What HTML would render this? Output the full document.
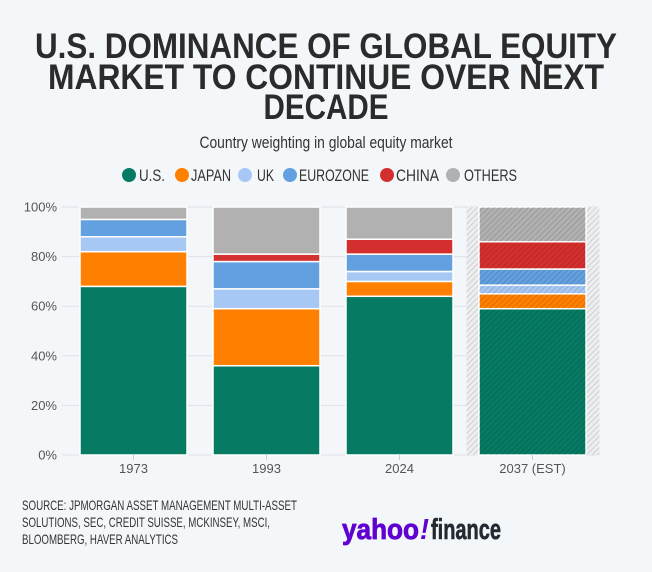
<!DOCTYPE html>
<html><head><meta charset="utf-8"><style>
html,body{margin:0;padding:0;background:#f4f7fa;}
svg{display:block;font-family:"Liberation Sans Narrow","Liberation Sans",sans-serif;}
</style></head><body>
<svg id="chart" width="652" height="572" viewBox="0 0 652 572" xmlns="http://www.w3.org/2000/svg">
<defs>
<pattern id="hatch" patternUnits="userSpaceOnUse" width="4" height="4" patternTransform="rotate(45)">
<line x1="0" y1="0" x2="0" y2="4" stroke="rgba(0,0,0,0.22)" stroke-width="1.2"/>
</pattern>
<pattern id="hatchbg" patternUnits="userSpaceOnUse" width="4" height="4" patternTransform="rotate(45)">
<rect width="4" height="4" fill="#eceef0"/>
<line x1="0" y1="0" x2="0" y2="4" stroke="#bdbdbd" stroke-width="1.2"/>
</pattern>
</defs>
<rect width="652" height="572" fill="#f4f7fa"/>
<g font-weight="bold" fill="#2b2b2b" font-size="35" text-anchor="middle">
<text x="326" y="58" textLength="582" lengthAdjust="spacingAndGlyphs">U.S. DOMINANCE OF GLOBAL EQUITY</text>
<text x="326" y="89" textLength="556" lengthAdjust="spacingAndGlyphs">MARKET TO CONTINUE OVER NEXT</text>
<text x="326" y="119" textLength="125" lengthAdjust="spacingAndGlyphs">DECADE</text>
</g>
<text x="326" y="148" text-anchor="middle" font-size="17" fill="#333" textLength="253" lengthAdjust="spacingAndGlyphs">Country weighting in global equity market</text>
<g id="legend"></g>
<g id="grid"></g>
<g id="bars"></g>
<g id="ticks"></g>
<g font-size="14" fill="#333">
<text x="22" y="510" textLength="275" lengthAdjust="spacingAndGlyphs">SOURCE: JPMORGAN ASSET MANAGEMENT MULTI-ASSET</text>
<text x="22" y="527" textLength="248" lengthAdjust="spacingAndGlyphs">SOLUTIONS, SEC, CREDIT SUISSE, MCKINSEY, MSCI,</text>
<text x="22" y="544" textLength="156" lengthAdjust="spacingAndGlyphs">BLOOMBERG, HAVER ANALYTICS</text>
</g>
<g font-family="Liberation Sans, sans-serif" font-weight="bold" font-size="29">
<text x="342" y="539" fill="#6001d2" stroke="#6001d2" stroke-width="0.8" textLength="77" lengthAdjust="spacingAndGlyphs">yahoo</text>
<text x="420" y="539" fill="#6001d2" font-style="italic" textLength="9" lengthAdjust="spacingAndGlyphs">!</text>
<text x="431" y="539" fill="#232a31" stroke="#232a31" stroke-width="0.6" textLength="70" lengthAdjust="spacingAndGlyphs">finance</text>
</g>
</svg>
<script>
const categories = ["1973","1993","2024","2037 (EST)"];
const seriesNames = ["U.S.","JAPAN","UK","EUROZONE","CHINA","OTHERS"];
const usVals = [68,36,64,59];
const japanVals = [14,23,6,6];
const ukVals = [6,8,4,3.5];
const eurozoneVals = [7,11,7,6.5];
const chinaVals = [0,3,6,11];
const othersVals = [5,19,13,14];
const yTicks = [0,20,40,60,80,100];

const NS="http://www.w3.org/2000/svg";
const colors=["#067a63","#ff8000","#a7c8f5","#62a0e0","#d42f2f","#b1b1b1"];
const series=[usVals,japanVals,ukVals,eurozoneVals,chinaVals,othersVals];
const plotL=62,plotR=598,y0=455,y100=207;
function y(v){return y0-(v/100)*(y0-y100);}
const bandStart=67,bandW=133;
function xCenter(i){return bandStart+bandW*(i+0.5);}
const barW=107;
function mk(tag,attrs,parent){const e=document.createElementNS(NS,tag);for(const k in attrs)e.setAttribute(k,attrs[k]);parent.appendChild(e);return e;}

const grid=document.getElementById('grid');
const ticks=document.getElementById('ticks');
yTicks.forEach(t=>{
  const l=mk('line',{x1:plotL,x2:plotR,y1:y(t),y2:y(t),stroke:'#dde1e5','stroke-width':1},grid);
  
  
  const tx=mk('text',{x:57,y:y(t)+4.5,'text-anchor':'end','font-size':13,fill:'#555'},ticks);
  tx.textContent=t+'%';
  
  
});

const bars=document.getElementById('bars');
const last=categories.length-1;
const bg=mk('rect',{x:xCenter(last)-66,y:y100,width:133,height:y0-y100,fill:'url(#hatchbg)'},bars);


categories.forEach((c,i)=>{
  let cum=0;
  series.forEach((s,k)=>{
    const v=s[i];
    const top=y(cum+v),bot=y(cum);
    cum+=v;
    if(v<=0)return;
    const r=mk('rect',{x:xCenter(i)-barW/2,y:top,width:barW,height:bot-top,fill:colors[k],stroke:'#ffffff','stroke-width':1.5},bars);
    
    
    if(i===last){
      const h=mk('rect',{x:xCenter(i)-barW/2,y:top,width:barW,height:bot-top,fill:'url(#hatch)'},bars);
      
      
    }
  });
  const tl=mk('line',{x1:xCenter(i),x2:xCenter(i),y1:y0,y2:y0+5,stroke:'#ccc'},ticks);
  
  
  const tx=mk('text',{x:xCenter(i),y:473,'text-anchor':'middle','font-size':13,fill:'#555'},ticks);
  tx.textContent=c;
  
  
});

const legend=document.getElementById('legend');
const dotX=[129,182,245,290,387,453];
const txtX=[139,191,257,299,396,464];
const txtW=[26,40,17,70,43,53];
seriesNames.forEach((n,k)=>{
  const g=mk('g',{},legend);
  
  
  mk('circle',{cx:dotX[k],cy:175,r:7,fill:colors[k]},g);
  const t=mk('text',{x:txtX[k],y:181,'font-size':17,fill:'#333',textLength:txtW[k],lengthAdjust:'spacingAndGlyphs'},g);
  t.textContent=n;
});
</script>
</body></html>
